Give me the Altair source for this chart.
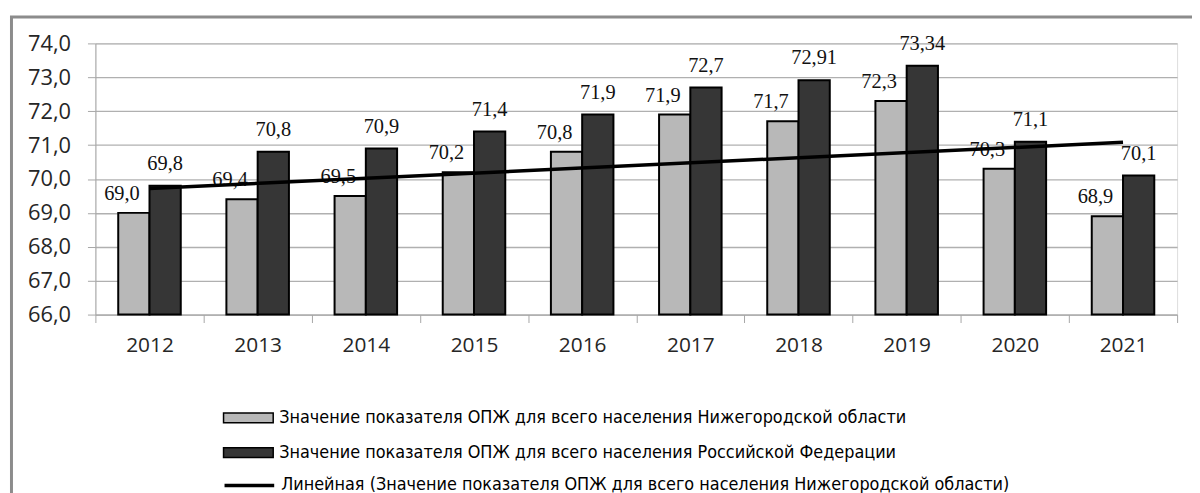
import altair as alt
import pandas as pd

years = [2012, 2013, 2014, 2015, 2016, 2017, 2018, 2019, 2020, 2021]
nn_values = [69.0, 69.4, 69.5, 70.2, 70.8, 71.9, 71.7, 72.3, 70.3, 68.9]
rf_values = [69.8, 70.8, 70.9, 71.4, 71.9, 72.7, 72.91, 73.34, 71.1, 70.1]

NN = "Значение показателя ОПЖ для всего населения Нижегородской области"
RF = "Значение показателя ОПЖ для всего населения Российской Федерации"
TREND = "Линейная (Значение показателя ОПЖ для всего населения Нижегородской области)"
y_ticks = [66, 67, 68, 69, 70, 71, 72, 73, 74]
y_min, y_max = 66, 74


def fmt(v):
    s = f"{v:.1f}" if round(v, 1) == v else f"{v:.2f}"
    return s.replace(".", ",")


rows = []
for y, a, b in zip(years, nn_values, rf_values):
    rows.append({"year": y, "series": NN, "value": a, "label": fmt(a)})
    rows.append({"year": y, "series": RF, "value": b, "label": fmt(b)})
df = pd.DataFrame(rows)
df_nn = pd.DataFrame({"year": years, "value": nn_values})

W, H = 1089, 273
LABEL_FONT = "Open Sans"
VAL_FONT = "Liberation Serif"
LEG_FONT = "'Liberation Sans Narrow', 'DejaVu Sans Condensed', 'Roboto'"

x_enc = alt.X(
    "year:O",
    title=None,
    scale=alt.Scale(paddingInner=0, paddingOuter=0),
    axis=alt.Axis(
        labelAngle=0, tickBand="extent", tickSize=8, tickColor="#a6a6a6",
        domainColor="#a6a6a6", labelFont=LABEL_FONT, labelFontSize=21,
        labelColor="#262626", labelPadding=12, grid=False, labelOverlap=False,
    ),
)
y_enc = alt.Y(
    "value:Q",
    title=None,
    scale=alt.Scale(domain=[y_min, y_max], nice=False, zero=False),
    axis=alt.Axis(
        values=y_ticks, tickSize=8, tickColor="#a6a6a6", domainColor="#a6a6a6",
        gridColor="#b0b0b0", gridWidth=1.3, labelFont=LABEL_FONT, labelFontSize=22,
        labelColor="#262626", labelPadding=17, labelOverlap=False,
        labelExpr="replace(format(datum.value, '.1f'), '.', ',')",
    ),
)
xoff = alt.XOffset(
    "series:N",
    scale=alt.Scale(domain=[NN, RF], paddingInner=0, paddingOuter=0.73),
)

base = alt.Chart(df)

text_nn = base.transform_filter(alt.datum.series == NN).mark_text(
    font=VAL_FONT, fontSize=20.5, color="#111111", baseline="alphabetic",
    dx=-12, dy=-13,
).encode(x=x_enc, xOffset=xoff, y=y_enc, text="label:N")

text_rf = base.transform_filter(alt.datum.series == RF).mark_text(
    font=VAL_FONT, fontSize=20.5, color="#111111", baseline="alphabetic", dy=-16,
).encode(x=x_enc, xOffset=xoff, y=y_enc, text="label:N")

bars = base.mark_bar(stroke="black", strokeWidth=2).encode(
    x=x_enc,
    xOffset=xoff,
    y=y_enc,
    y2=alt.Y2(datum=y_min),
    fill=alt.Fill(
        "series:N",
        scale=alt.Scale(domain=[NN, RF], range=["#b8b8b8", "#363636"]),
        legend=alt.Legend(
            title=None, orient="none", legendX=128, legendY=351, direction="vertical",
            symbolType="M-1,-0.2H1V0.2H-1Z", symbolSize=2500, symbolStrokeColor="black",
            symbolStrokeWidth=1.5, labelFont=LEG_FONT, labelFontSize=18,
            labelColor="#000000", labelLimit=1000, labelOffset=5, rowPadding=-16, padding=0,
        ),
    ),
)

trend = alt.Chart(df_nn).transform_regression("year", "value").transform_calculate(
    series=f"'{TREND}'"
).mark_line(strokeWidth=3.5).encode(
    x=x_enc,
    y=y_enc,
    stroke=alt.Stroke(
        "series:N",
        scale=alt.Scale(domain=[TREND], range=["black"]),
        legend=alt.Legend(
            title=None, orient="none", legendX=128, legendY=418,
            symbolType="stroke", symbolSize=2500, symbolStrokeWidth=3.5,
            labelFont=LEG_FONT, labelFontSize=18, labelColor="#000000",
            labelLimit=1000, labelOffset=5, padding=0,
        ),
    ),
)

frame = alt.Chart(pd.DataFrame({"k": [0]})).mark_rect(
    fill="transparent", stroke="#8c8c8c", strokeWidth=3
).encode(
    x=alt.value(-84.5), x2=alt.value(W + 60), y=alt.value(-26.5), y2=alt.value(H + 400)
)

chart = alt.layer(frame, text_nn, text_rf, bars, trend).resolve_scale(
    fill="independent", stroke="independent"
).properties(
    width=W, height=H,
    autosize=alt.AutoSizeParams(type="none"),
    padding={"left": 88, "top": 34, "right": 15, "bottom": 178},
).configure_view(strokeWidth=0).configure(background="white")

chart.save("out.html", embed_options={"renderer": "svg", "actions": False})
